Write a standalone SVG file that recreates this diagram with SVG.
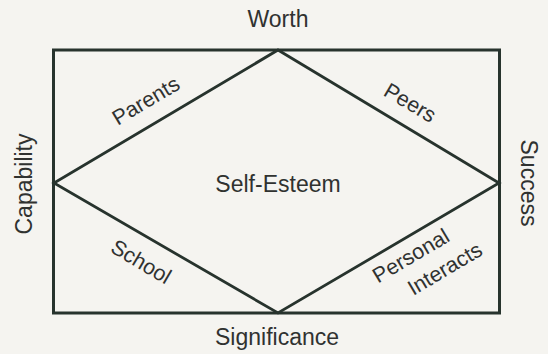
<svg xmlns="http://www.w3.org/2000/svg" width="548" height="354" viewBox="0 0 548 354">
<style>
.t{font-family:"Liberation Sans",Arial,sans-serif;fill:#303230;text-anchor:middle}
.m{font-size:23px}
.e{font-size:21.5px}
.ln{fill:none;stroke:#27332d;stroke-linejoin:miter}
</style>
<rect width="548" height="354" fill="#f5f4f0"/>
<g id="connectors">
<rect class="ln" x="53.5" y="50" width="446" height="263" stroke-width="3"/>
<polygon class="ln" points="278,50 499,183 278,313 54,183" stroke-width="2.8"/>
</g>
<g id="worth"><text class="t m" x="278" y="27">Worth</text></g>
<g id="significance"><text class="t m" x="277" y="345">Significance</text></g>
<g id="capability"><text class="t m" transform="translate(32,184) rotate(-90)" x="0" y="0">Capability</text></g>
<g id="success"><text class="t m" transform="translate(521,183) rotate(90)" x="0" y="0">Success</text></g>
<g id="self-esteem"><text class="t m" x="278" y="192">Self-Esteem</text></g>
<g id="parents"><text class="t e" transform="translate(146,101) rotate(-30.7)" x="0" y="7">Parents</text></g>
<g id="peers"><text class="t e" transform="translate(410,103) rotate(30.7)" x="0" y="7">Peers</text></g>
<g id="school"><text class="t e" transform="translate(141,262) rotate(30.7)" x="0" y="7">School</text></g>
<g id="personal"><text class="t e" transform="translate(411,256) rotate(-30.7)" x="0" y="7">Personal</text></g>
<g id="interacts"><text class="t e" transform="translate(445,269) rotate(-30.7)" x="0" y="7">Interacts</text></g>
</svg>
